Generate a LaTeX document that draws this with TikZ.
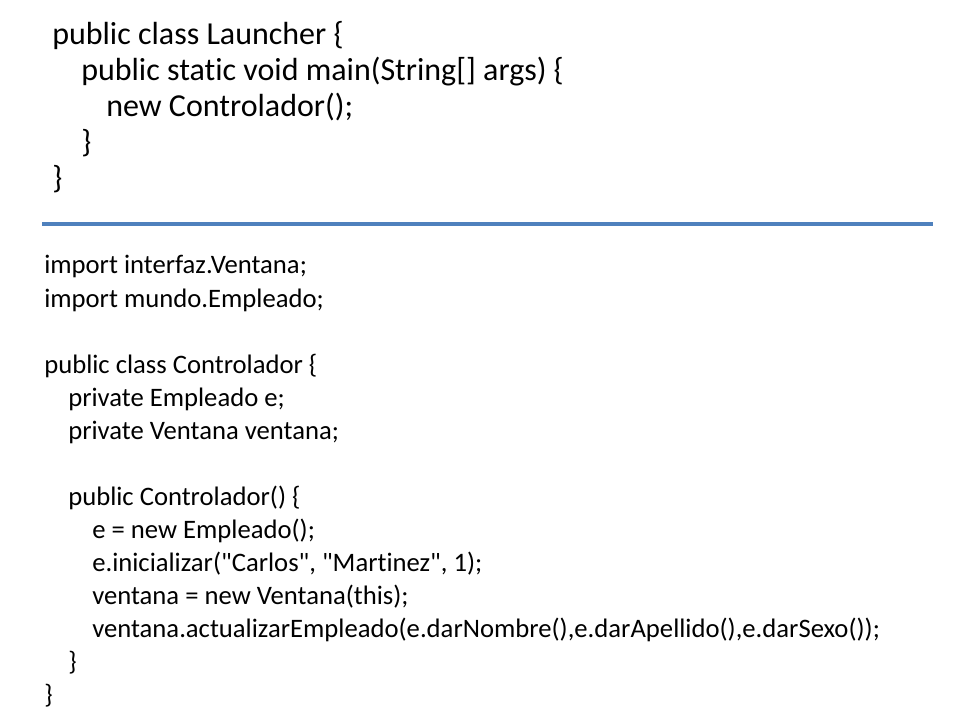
\documentclass[tikz,border=0pt]{standalone}
\usepackage{fontspec}
\setmainfont{Carlito}
\newfontfamily\codefont{Carlito}[Ligatures={NoCommon}]
\definecolor{rulecol}{HTML}{4F81BD}
\tikzset{
  codeA/.style={anchor=base west, inner sep=0pt, font=\codefont\fontsize{24}{28}\selectfont},
  codeB/.style={anchor=base west, inner sep=0pt, font=\codefont\fontsize{20}{24}\selectfont},
}
\begin{document}
\begin{tikzpicture}[x=0.75pt,y=-0.75pt]
\useasboundingbox[fill=white] (0,0) rectangle (960,720);
% top block
\node[codeA] (t1) at (52,45) {public class Launcher \{};
\node[codeA] (t2) at (81,81) {public static void main(String[] args) \{};
\node[codeA] (t3) at (106,117) {new Controlador();};
\node[codeA] (t4) at (81,153) {\}};
\node[codeA] (t5) at (52,189) {\}};
% separator
\coordinate (sl) at (42,224);
\coordinate (sr) at (933,224);
\draw[rulecol, line width=3pt] (sl) -- (sr);
% bottom block
\node[codeB] (b1) at (44,274) {import interfaz.Ventana;};
\node[codeB] (b2) at (44,307) {import mundo.Empleado;};
\node[codeB] (b3) at (44,373) {public class Controlador \{};
\node[codeB] (b4) at (68,406) {private Empleado e;};
\node[codeB] (b5) at (68,439) {private Ventana ventana;};
\node[codeB] (b6) at (68,505) {public Controlador() \{};
\node[codeB] (b7) at (92,538) {e = new Empleado();};
\node[codeB] (b8) at (92,571) {e.inicializar("Carlos", "Martinez", 1);};
\node[codeB] (b9) at (92,604) {ventana = new Ventana(this);};
\node[codeB] (b10) at (92,637) {ventana.actualizarEmpleado(e.darNombre(),e.darApellido(),e.darSexo());};
\node[codeB] (b11) at (68,670) {\}};
\node[codeB] (b12) at (44,703) {\}};
\end{tikzpicture}
\end{document}
